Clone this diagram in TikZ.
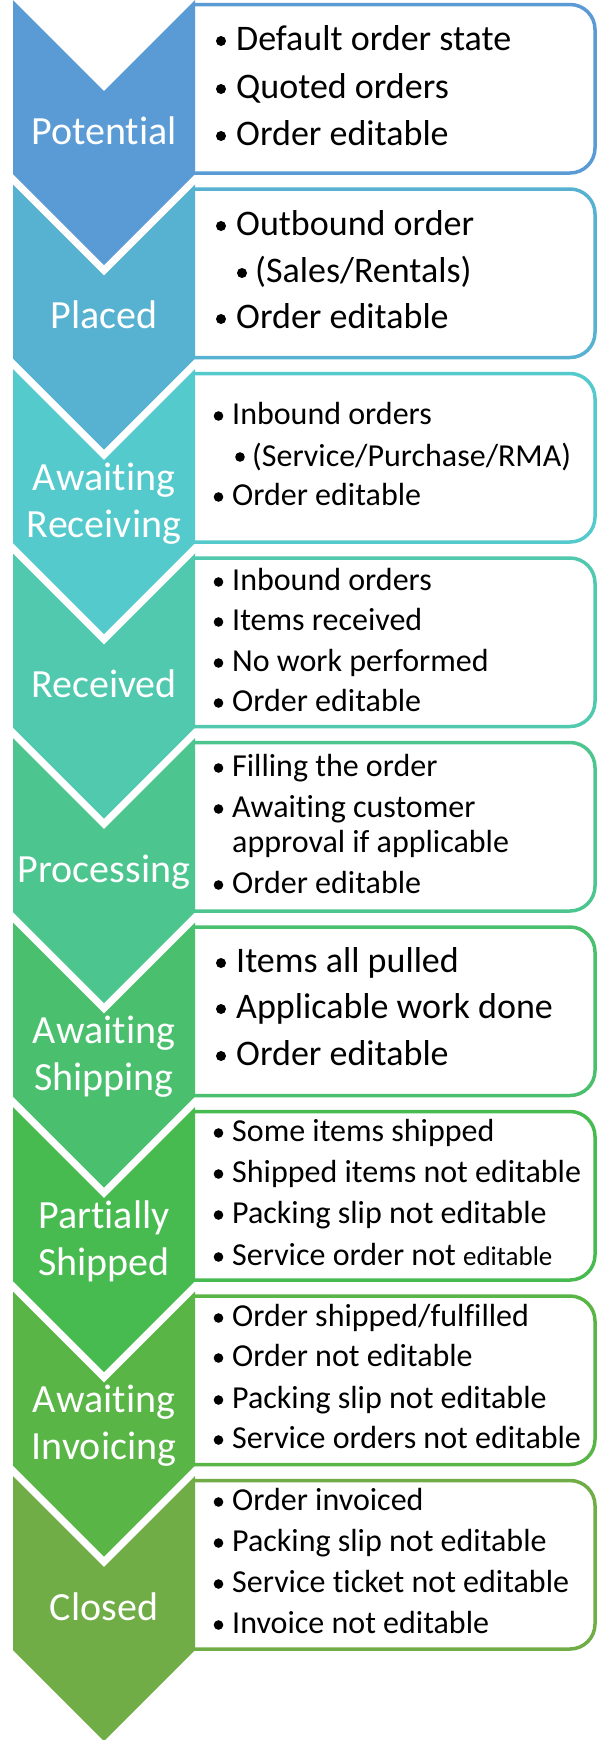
\documentclass[tikz,border=0pt]{standalone}
\usepackage{fontspec}
\setmainfont{Carlito}[Ligatures={NoCommon,NoContextual}, RawFeature={-liga;-clig;-calt;-dlig}]
\definecolor{s0}{HTML}{5B9BD5}
\definecolor{s1}{HTML}{57B1D1}
\definecolor{s2}{HTML}{54CACD}
\definecolor{s3}{HTML}{50C9AF}
\definecolor{s4}{HTML}{4DC58F}
\definecolor{s5}{HTML}{4AC06F}
\definecolor{s6}{HTML}{47BB50}
\definecolor{s7}{HTML}{58B546}
\definecolor{s8}{HTML}{70AD47}
\tikzset{
  lbl/.style={text=white, font=\fontsize{40}{48}\selectfont, text height=24pt, text depth=0pt, inner sep=0pt, anchor=center},
  bigtxt/.style={font=\fontsize{36}{43}\selectfont, text height=21.6pt, text depth=0pt, inner sep=0pt, anchor=west},
  smtxt/.style={font=\fontsize{32}{38}\selectfont, text height=19.2pt, text depth=0pt, inner sep=0pt, anchor=west},
  boxline/.style={line width=3.5pt, rounded corners=25pt},
}
% big item: bullet at 221, text at 236
\newcommand\bigitem[3]{\fill (221,#2+1) circle (5pt); \node[bigtxt] (#1) at (236,#2) {#3};}
% small item: bullet at 218.5, text at 232
\newcommand\smitem[3]{\fill (218.5,#2+1) circle (4.8pt); \node[smtxt] (#1) at (232,#2) {#3};}
\begin{document}
\begin{tikzpicture}[x=1pt,y=-1pt]
\useasboundingbox[fill=white] (0,0) rectangle (602,1740);
% boxes and chevrons
\foreach \k in {0,...,8}{
  \pgfmathsetmacro\yt{184.5*\k}
  \draw[boxline, draw=s\k] (194,\yt+4.5) -- (595,\yt+4.5) -- (595,\yt+173) -- (194,\yt+173);
  \fill[s\k] (13,\yt) -- (104,\yt+91) -- (195,\yt) -- (195,\yt+174) -- (104,\yt+265) -- (13,\yt+174) -- cycle;
}
% labels
\node[lbl] (l0) at (104,132) {Potential};
\node[lbl] (l1) at (104,316.5) {Placed};
\node[lbl] (l2a) at (104,478) {Awaiting};
\node[lbl] (l2b) at (104,525) {Receiving};
\node[lbl] (l3) at (104,685) {Received};
\node[lbl] (l4) at (104,870) {Processing};
\node[lbl] (l5a) at (104,1031.5) {Awaiting};
\node[lbl] (l5b) at (104,1078.5) {Shipping};
\node[lbl] (l6a) at (104,1216) {Partially};
\node[lbl] (l6b) at (104,1263) {Shipped};
\node[lbl] (l7a) at (104,1400.5) {Awaiting};
\node[lbl] (l7b) at (104,1447.5) {Invoicing};
\node[lbl] (l8) at (104,1608) {Closed};
% box 1
\bigitem{t0a}{40}{Default order state}
\bigitem{t0b}{88}{Quoted orders}
\bigitem{t0c}{135}{Order editable}
% box 2
\bigitem{t1a}{225}{Outbound order}
\fill (242,273) circle (5pt);
\node[bigtxt] (t1b) at (255,272) {(Sales/Rentals)};
\bigitem{t1c}{318}{Order editable}
% box 3
\smitem{t2a}{415}{Inbound orders}
\fill (240,457) circle (4.8pt);
\node[smtxt] (t2b) at (252,457) {(Service/Purchase/RMA)};
\smitem{t2c}{496}{Order editable}
% box 4
\smitem{t3a}{581}{Inbound orders}
\smitem{t3b}{621}{Items received}
\smitem{t3c}{662}{No work performed}
\smitem{t3d}{702}{Order editable}
% box 5
\smitem{t4a}{767}{Filling the order}
\smitem{t4b}{808}{Awaiting customer}
\node[smtxt] (t4c) at (232,843) {approval if applicable};
\smitem{t4d}{884}{Order editable}
% box 6
\bigitem{t5a}{962}{Items all pulled}
\bigitem{t5b}{1008}{Applicable work done}
\bigitem{t5c}{1055}{Order editable}
% box 7
\smitem{t6a}{1132}{Some items shipped}
\smitem{t6b}{1173}{Shipped items not editable}
\smitem{t6c}{1214}{Packing slip not editable}
\smitem{t6d}{1256}{Service order not {\fontsize{27}{32}\selectfont editable}}
% box 8
\smitem{t7a}{1317}{Order shipped/fulfilled}
\smitem{t7b}{1357}{Order not editable}
\smitem{t7c}{1399}{Packing slip not editable}
\smitem{t7d}{1439}{Service orders not editable}
% box 9
\smitem{t8a}{1501}{Order invoiced}
\smitem{t8b}{1542}{Packing slip not editable}
\smitem{t8c}{1583}{Service ticket not editable}
\smitem{t8d}{1624}{Invoice not editable}
\end{tikzpicture}
\end{document}
